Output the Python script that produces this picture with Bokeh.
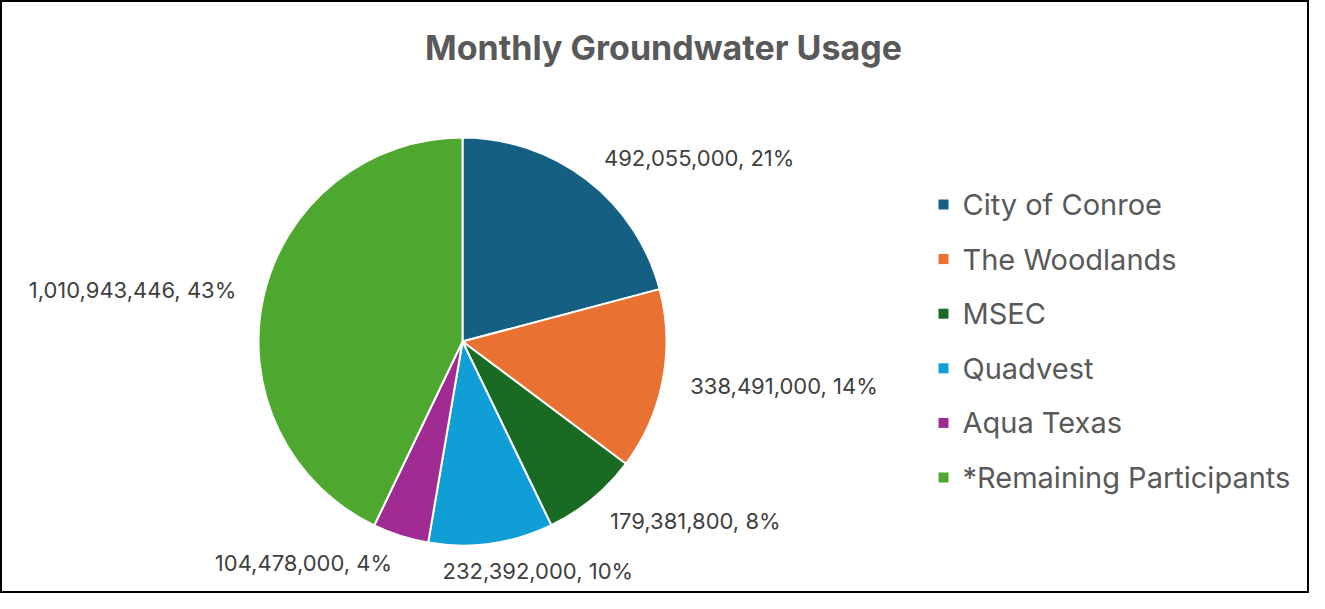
import math
from bokeh.plotting import figure
from bokeh.models import Range1d, ColumnDataSource
from bokeh.core.properties import value
from bokeh.embed import file_html
from bokeh.resources import INLINE

# ---- data ----
categories = ["City of Conroe", "The Woodlands", "MSEC", "Quadvest",
              "Aqua Texas", "*Remaining Participants"]
usage = [492055000, 338491000, 179381800, 232392000, 104478000, 1010943446]
colors = ["#156082", "#E97132", "#196B24", "#0F9ED5", "#A02B93", "#4EA72E"]
title_text = "Monthly Groundwater Usage"

# ---- layout (window pixel coords -> data coords) ----
W, H = 1309, 593
def sx(X):
    return X
def sy(Y):
    return H - Y

FONT = "Inter"
cx, cy, R = sx(462), sy(341), 204
label_r = 232

total = float(sum(usage))
starts, ends, lx, ly, ltxt, lalign = [], [], [], [], [], []
cum = 0.0
for v in usage:
    frac = v / total
    a0 = math.pi / 2 - 2 * math.pi * cum
    a1 = math.pi / 2 - 2 * math.pi * (cum + frac)
    starts.append(a0)
    ends.append(a1)
    t = 2 * math.pi * (cum + frac / 2)   # clockwise from top
    txt = f"{v:,}, {round(100 * v / total)}%"
    ax = cx + math.sin(t) * label_r
    ay = cy + math.cos(t) * label_r
    f = min(1.0, max(0.0, 0.5 - 1.66 * math.sin(t)))
    if f >= 1.0:
        al = "right"
    elif f <= 0.0:
        al = "left"
    else:
        al = "center"
        w = len(txt) * 11.5
        ax = ax + (0.5 - f) * w
    lx.append(ax)
    ly.append(ay)
    ltxt.append(txt)
    lalign.append(al)
    cum += frac

p = figure(width=W, height=H, output_backend="svg", toolbar_location=None,
           x_range=Range1d(0, W), y_range=Range1d(0, H), min_border=0)
p.axis.visible = False
p.grid.visible = False
p.outline_line_color = "black"
p.outline_line_width = 3
p.background_fill_color = "white"
p.border_fill_color = "white"

wsrc = ColumnDataSource(dict(start=starts, end=ends, color=colors, cat=categories))
p.wedge(x=cx, y=cy, radius=R, start_angle="start", end_angle="end",
        direction="clock", fill_color="color", line_color="white",
        line_width=2, source=wsrc)

lsrc = ColumnDataSource(dict(x=lx, y=ly, t=ltxt, al=lalign))
p.text(x="x", y="y", text="t", source=lsrc, text_font=value(FONT),
       text_font_size="22px", text_color="#404040",
       text_align="al", text_baseline="middle")

# legend
leg_y = [sy(204 + i * 54.6) for i in range(len(categories))]
leg_src = ColumnDataSource(dict(x=[sx(943)] * len(categories), tx=[sx(962)] * len(categories),
                                y=leg_y, color=colors, cat=categories))
p.scatter(x="x", y="y", marker="square", size=10, fill_color="color",
          line_color=None, source=leg_src)
p.text(x="tx", y="y", text="cat", source=leg_src, text_font=value(FONT),
       text_font_size="29px", text_color="#595959",
       text_align="left", text_baseline="middle")

# title
p.text(x=[sx(663)], y=[sy(47)], text=[title_text], text_font=value(FONT),
       text_font_size="34px", text_font_style="bold", text_color="#595959",
       text_align="center", text_baseline="middle")

open("out.html", "w").write(file_html(p, INLINE))
